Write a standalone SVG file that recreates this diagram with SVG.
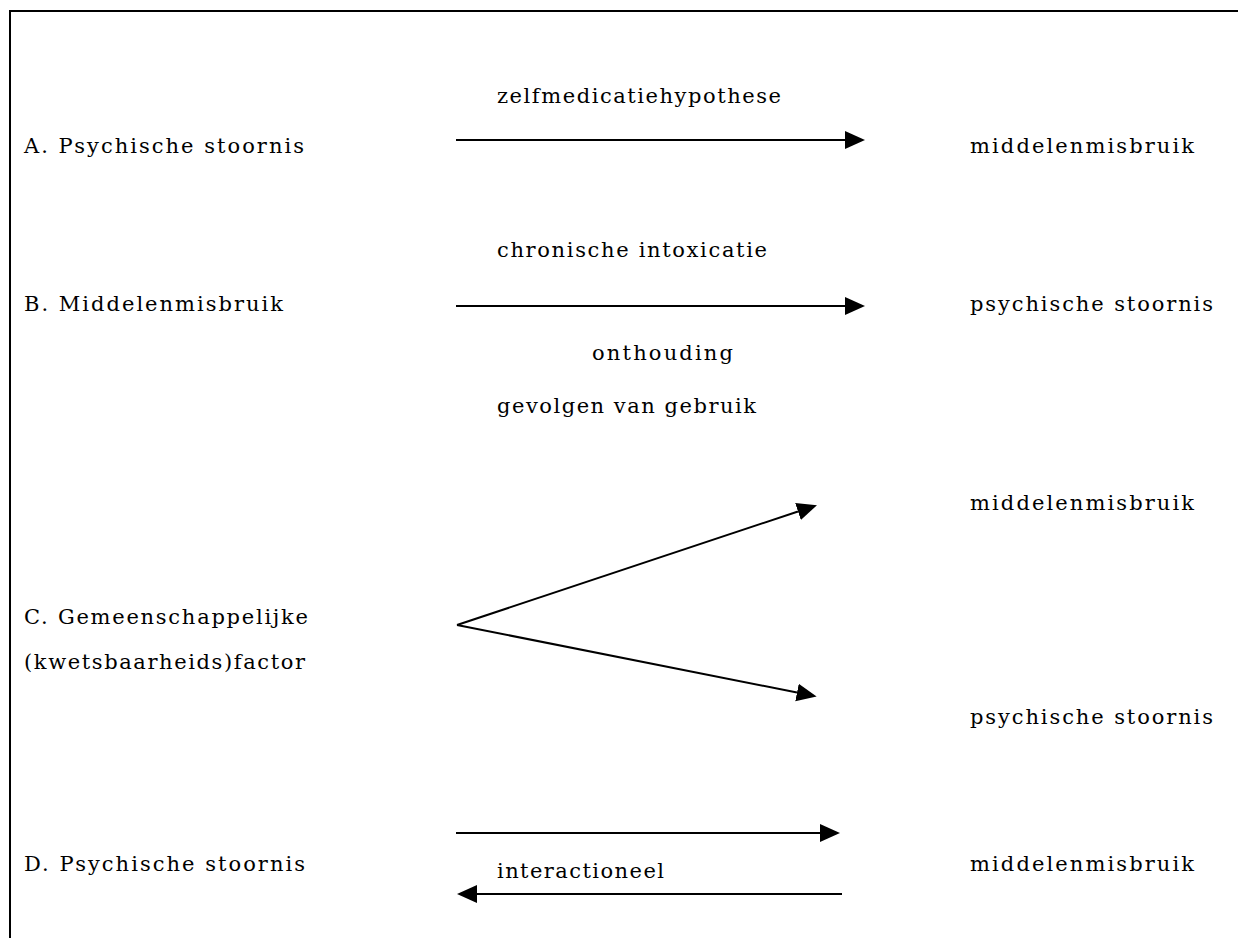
<svg xmlns="http://www.w3.org/2000/svg" width="1238" height="938" viewBox="0 0 1238 938">
<style>
text{font-family:"DejaVu Serif","Liberation Serif",serif;font-size:21px;fill:#000}
.ln{stroke:#000;stroke-width:2;fill:none}
.frame{stroke:#000;stroke-width:2;fill:none}
</style>
<defs>
<marker id="ah" viewBox="0 0 20 20" refX="0" refY="10" markerWidth="20" markerHeight="20" markerUnits="userSpaceOnUse" orient="auto">
<path d="M0,1 L20,10 L0,19 Z" fill="#000"/>
</marker>
</defs>
<rect width="1238" height="938" fill="#fff"/>
<path class="frame" d="M10,938 V11 H1238"/>
<g id="rowA">
<text x="24" y="153" textLength="280" lengthAdjust="spacing">A. Psychische stoornis</text>
<text x="970" y="153" textLength="224" lengthAdjust="spacing">middelenmisbruik</text>
<text x="497" y="103" textLength="284" lengthAdjust="spacing">zelfmedicatiehypothese</text>
</g>
<g id="rowB">
<text x="24" y="311" textLength="259" lengthAdjust="spacing">B. Middelenmisbruik</text>
<text x="970" y="311" textLength="243" lengthAdjust="spacing">psychische stoornis</text>
<text x="497" y="257" textLength="270" lengthAdjust="spacing">chronische intoxicatie</text>
<text x="592" y="360" textLength="141" lengthAdjust="spacing">onthouding</text>
<text x="497" y="413" textLength="259" lengthAdjust="spacing">gevolgen van gebruik</text>
</g>
<g id="rowC">
<text x="24" y="624" textLength="284" lengthAdjust="spacing">C. Gemeenschappelijke</text>
<text x="24" y="669" textLength="281" lengthAdjust="spacing">(kwetsbaarheids)factor</text>
<text x="970" y="510" textLength="224" lengthAdjust="spacing">middelenmisbruik</text>
<text x="970" y="724" textLength="243" lengthAdjust="spacing">psychische stoornis</text>
</g>
<g id="rowD">
<text x="24" y="871" textLength="281" lengthAdjust="spacing">D. Psychische stoornis</text>
<text x="970" y="871" textLength="224" lengthAdjust="spacing">middelenmisbruik</text>
<text x="497" y="878" textLength="167" lengthAdjust="spacing">interactioneel</text>
</g>
<g id="connectors">
<line class="ln" x1="456" y1="140" x2="845" y2="140" marker-end="url(#ah)"/>
<line class="ln" x1="456" y1="306" x2="845" y2="306" marker-end="url(#ah)"/>
<line class="ln" x1="457" y1="625" x2="798" y2="511.5" marker-end="url(#ah)"/>
<line class="ln" x1="457" y1="625" x2="797" y2="692.5" marker-end="url(#ah)"/>
<line class="ln" x1="456" y1="833" x2="820" y2="833" marker-end="url(#ah)"/>
<line class="ln" x1="842" y1="894" x2="477" y2="894" marker-end="url(#ah)"/>
</g>
</svg>
